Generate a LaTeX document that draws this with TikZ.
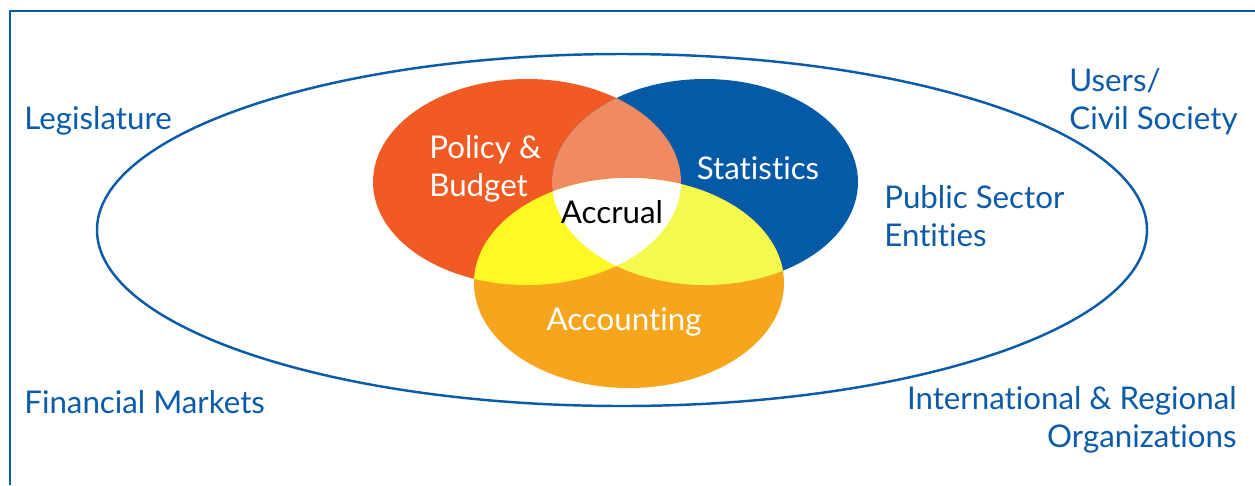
\documentclass[tikz,border=0pt]{standalone}
\usepackage{fontspec}
\setmainfont{Lato}[Ligatures=NoCommon]
\usepackage{tikz}
\usetikzlibrary{positioning}

\definecolor{lineblue}{HTML}{0B5BA9}
\definecolor{polred}{HTML}{F15A22}
\definecolor{statblue}{HTML}{055AA8}
\definecolor{accorange}{HTML}{F7A51D}
\definecolor{polstat}{HTML}{F08A63}
\definecolor{polacc}{HTML}{FFF824}
\definecolor{statacc}{HTML}{F4F94E}

\tikzset{
  actor/.style={font=\fontsize{17.8}{21.6}\selectfont, text=lineblue, inner sep=0pt, align=left},
  setlabel/.style={font=\fontsize{17.8}{21.6}\selectfont, text=white, inner sep=0pt, align=left}
}

\newcommand{\polset}{(527,182) ellipse [x radius=154, y radius=103]}
\newcommand{\statset}{(705,182) ellipse [x radius=153, y radius=103]}
\newcommand{\accset}{(629,283) ellipse [x radius=155, y radius=105]}

\begin{document}
\begin{tikzpicture}[x=0.02cm, y=-0.02cm]
            \useasboundingbox (0,0) rectangle (1255,485);
            \draw[lineblue, line width=1.1pt] (10,485) -- (10,11) -- (1255,11);
            \draw[lineblue, line width=1.4pt] (622,230) ellipse [x radius=525, y radius=176];
            % the three sets
            \fill[polred] \polset;
            \fill[statblue] \statset;
            \fill[accorange] \accset;
            \begin{scope}
                \clip \polset;
                \fill[polstat] \statset;
                \fill[polacc] \accset;
            \end{scope}
            \begin{scope}
                \clip \statset;
                \fill[statacc] \accset;
            \end{scope}
            \begin{scope}
                \clip \polset;
                \clip \statset;
                \fill[white] \accset;
            \end{scope}
            \node[setlabel, anchor=west] (policy) at (429,169) {Policy \&\\Budget};
            \node[setlabel] (stats) at (758,168) {Statistics};
            \node[setlabel] (accounting) at (624,322) {Accounting};
            \node[setlabel, text=black] (accrual) at (612,212) {Accrual};
            % stakeholders
            \node[actor, anchor=west] (legis) at (24,121) {Legislature};
            \node[actor, anchor=west] (users) at (1069,102) {Users/\\Civil Society};
            \node[actor, anchor=west] (public) at (884,216) {Public Sector\\Entities};
            \node[actor, anchor=west] (markets) at (24,402) {Financial Markets};
            \node[actor, anchor=east, align=right] (intl) at (1237,420) {International \& Regional\\Organizations};
        \end{tikzpicture}
\end{document}
